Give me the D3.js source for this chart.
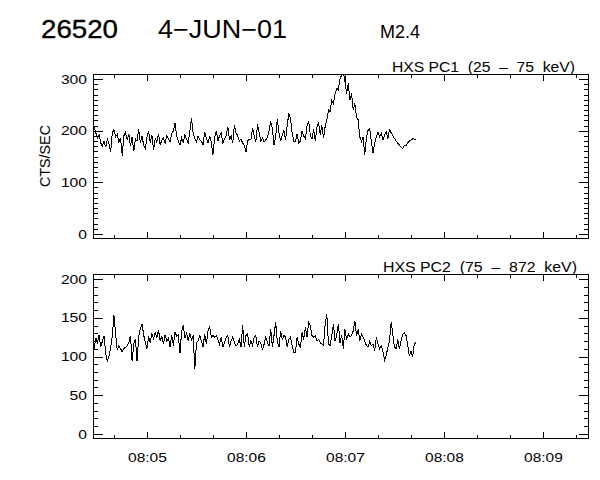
<!DOCTYPE html>
<html lang="en">
<head>
<meta charset="utf-8">
<title>26520 4-JUN-01 M2.4</title>
<script src="https://cdn.jsdelivr.net/npm/d3@7"></script>
<style>
  body { margin: 0; background: #fff; }
  text { font-family: "Liberation Sans", Arial, sans-serif; fill: #000; }
</style>
</head>
<body>
<svg id="chart" width="600" height="480"></svg>
<script>
// HXS count rates, one sample per second from 08:04:27 UT
const sampleStart = Date.UTC(2001, 5, 4, 8, 4, 27);
const pc1 = [
  190, 207, 196, 186, 192, 176, 170, 180, 168, 184,
  175, 158, 196, 202, 188, 193, 178, 186, 152, 190,
  197, 182, 194, 170, 188, 160, 184, 180, 203, 176,
  190, 172, 165, 188, 200, 176, 192, 162, 185, 178,
  194, 172, 182, 186, 176, 190, 184, 178, 194, 200,
  214, 190, 180, 172, 186, 178, 192, 184, 176, 200,
  224, 196, 184, 178, 190, 182, 180, 172, 198, 186,
  176, 190, 178, 153, 186, 200, 180, 190, 196, 176,
  184, 190, 208, 182, 190, 176, 211, 196, 190, 180,
  184, 176, 172, 159, 180, 184, 182, 206, 190, 178,
  212, 196, 180, 186, 178, 182, 188, 200, 218, 204,
  172, 188, 222, 196, 180, 192, 200, 182, 210, 234,
  224, 196, 180, 180, 194, 176, 180, 200, 190, 184,
  210, 218, 192, 184, 203, 180, 206, 216, 192, 210,
  186, 208, 221, 240, 237, 259, 253, 272, 282, 279,
  301, 308, 315, 296, 272, 292, 259, 272, 240, 253,
  227, 221, 188, 179, 188, 153, 185, 201, 205, 179,
  156, 175, 188, 198, 188, 195, 182, 191, 198, 185,
  202, 196, 190, 185, 180, 176, 172, 168, 165, 172,
  170, 176, 180, 182, 184, 184, 183
];
const pc2 = [
  116, 110, 124, 118, 128, 112, 120, 126, 104, 94,
  100, 112, 126, 153, 130, 108, 114, 110, 106, 110,
  112, 114, 118, 127, 94, 116, 122, 94, 126, 136,
  142, 128, 118, 110, 126, 118, 130, 122, 132, 124,
  134, 120, 126, 116, 128, 120, 124, 112, 128, 114,
  132, 126, 128, 104, 132, 140, 124, 130, 120, 130,
  122, 126, 84, 118, 120, 127, 120, 112, 129, 116,
  133, 138, 125, 127, 125, 127, 122, 116, 125, 112,
  118, 125, 127, 112, 120, 125, 118, 114, 116, 122,
  112, 140, 112, 127, 129, 112, 120, 114, 125, 127,
  112, 120, 118, 108, 116, 125, 118, 114, 136, 112,
  127, 144, 120, 112, 133, 122, 127, 125, 112, 122,
  125, 114, 105, 105, 125, 116, 112, 131, 122, 138,
  125, 144, 140, 127, 125, 127, 120, 122, 118, 116,
  114, 142, 155, 116, 114, 127, 142, 120, 127, 142,
  118, 127, 110, 135, 122, 129, 125, 127, 133, 146,
  127, 135, 120, 129, 125, 120, 114, 112, 120, 114,
  116, 107, 125, 116, 110, 114, 107, 95, 101, 112,
  120, 144, 129, 112, 110, 122, 110, 120, 129, 131,
  127, 116, 101, 107, 99, 116, 118
];

const pc1Title = "HXS PC1  (25  \u2013  75  keV)";
const pc2Title = "HXS PC2  (75  \u2013  872  keV)";
const pc1Domain = [-10, 310];
const pc2Domain = [-6.5, 206.5];
const pc1Ticks = [0, 100, 200, 300];
const pc2Ticks = [0, 50, 100, 150, 200];
const timeDomain = [new Date(Date.UTC(2001, 5, 4, 8, 4, 27, 300)), new Date(Date.UTC(2001, 5, 4, 8, 9, 27, 900))];

const svg = d3.select("#chart");
const left = 93, right = 589;

const x = d3.scaleUtc().domain(timeDomain).range([left, right]);
const majorTimes = d3.utcMinute.range(timeDomain[0], timeDomain[1]);
const minorTimes = d3.utcSecond.every(20).range(timeDomain[0], timeDomain[1])
  .filter(d => d.getUTCSeconds() !== 0);

// make the Hershey-like labels a bit wider than Arial
function widen(sel) {
  sel.each(function() {
    const s = this.textContent;
    if (!s) return;
    let w = 0;
    for (const c of s) w += (c === ":" ? 4 : 8.7);
    d3.select(this).attr("textLength", w).attr("lengthAdjust", "spacingAndGlyphs");
  });
}

function panel(values, domain, ticks, title, titleX, titleW, top, bottom, showTimes) {
  const y = d3.scaleLinear().domain(domain).range([bottom, top]);
  const g = svg.append("g");
  const minorY = d3.range(0, domain[1], 10).filter(v => !ticks.includes(v));

  const clipId = "clip" + top;
  svg.append("clipPath").attr("id", clipId)
    .append("rect").attr("x", left).attr("y", top).attr("width", right - left).attr("height", bottom - top);

  // data trace
  const line = d3.line()
    .x((d, i) => x(new Date(sampleStart + i * 1000)))
    .y(d => y(d));
  g.append("path")
    .datum(values)
    .attr("clip-path", "url(#" + clipId + ")")
    .attr("fill", "none")
    .attr("stroke", "#000")
    .attr("stroke-width", 1)
    .attr("shape-rendering", "crispEdges")
    .attr("d", line);

  // y axes, ticks pointing inward on both sides
  const yl = g.append("g").attr("transform", `translate(${left},0)`)
    .call(d3.axisLeft(y).tickValues(ticks).tickSize(-10).tickPadding(6).tickFormat(d3.format("d")));
  g.append("g").attr("transform", `translate(${left},0)`)
    .call(d3.axisLeft(y).tickValues(minorY).tickSize(-5).tickFormat(""));
  g.append("g").attr("transform", `translate(${right},0)`)
    .call(d3.axisRight(y).tickValues(ticks).tickSize(-10).tickFormat(""));
  g.append("g").attr("transform", `translate(${right},0)`)
    .call(d3.axisRight(y).tickValues(minorY).tickSize(-5).tickFormat(""));

  // time axes
  const xb = g.append("g").attr("transform", `translate(0,${bottom})`)
    .call(d3.axisBottom(x).tickValues(majorTimes).tickSize(-7).tickPadding(14)
      .tickFormat(showTimes ? d3.utcFormat("%H:%M") : () => ""));
  g.append("g").attr("transform", `translate(0,${bottom})`)
    .call(d3.axisBottom(x).tickValues(minorTimes).tickSize(-4).tickFormat(""));
  g.append("g").attr("transform", `translate(0,${top})`)
    .call(d3.axisTop(x).tickValues(majorTimes).tickSize(-7).tickFormat(""));
  g.append("g").attr("transform", `translate(0,${top})`)
    .call(d3.axisTop(x).tickValues(minorTimes).tickSize(-4).tickFormat(""));

  g.selectAll(".domain").remove();
  g.selectAll(".tick line").attr("stroke", "#000").attr("shape-rendering", "crispEdges");
  g.selectAll(".tick text").attr("font-size", 13).attr("font-family", null).attr("fill", "#000");
  yl.selectAll(".tick text").call(widen);
  xb.selectAll(".tick text").call(widen);

  g.append("rect")
    .attr("x", left + 0.5).attr("y", top + 0.5)
    .attr("width", right - left - 1).attr("height", bottom - top - 1)
    .attr("fill", "none").attr("stroke", "#000").attr("shape-rendering", "crispEdges");

  svg.append("text")
    .attr("x", titleX).attr("y", top - 2)
    .attr("font-size", 14)
    .attr("textLength", titleW).attr("lengthAdjust", "spacingAndGlyphs")
    .style("white-space", "pre")
    .text(title);
}

panel(pc1, pc1Domain, pc1Ticks, pc1Title, 392, 183, 74, 239, false);
panel(pc2, pc2Domain, pc2Ticks, pc2Title, 383, 194, 274, 439, true);

// header
svg.append("text").attr("x", 41).attr("y", 38).attr("font-size", 25)
  .attr("stroke", "#000").attr("stroke-width", 0.35)
  .attr("textLength", 77).attr("lengthAdjust", "spacingAndGlyphs").text("26520");
svg.append("text").attr("x", 158).attr("y", 38).attr("font-size", 25)
  .attr("font-family", "Lato, 'Liberation Sans', sans-serif").attr("font-weight", 300)
  .attr("textLength", 129).attr("lengthAdjust", "spacingAndGlyphs").text("4\u2212JUN\u221201");
svg.append("text").attr("x", 380).attr("y", 38).attr("font-size", 19)
  .attr("font-family", "Lato, 'Liberation Sans', sans-serif").attr("font-weight", 300)
  .attr("textLength", 40).attr("lengthAdjust", "spacingAndGlyphs").text("M2.4");

svg.append("text")
  .attr("transform", "translate(50,156) rotate(-90)")
  .attr("text-anchor", "middle")
  .attr("font-size", 14)
  .attr("textLength", 62).attr("lengthAdjust", "spacingAndGlyphs")
  .text("CTS/SEC");
</script>
</body>
</html>
